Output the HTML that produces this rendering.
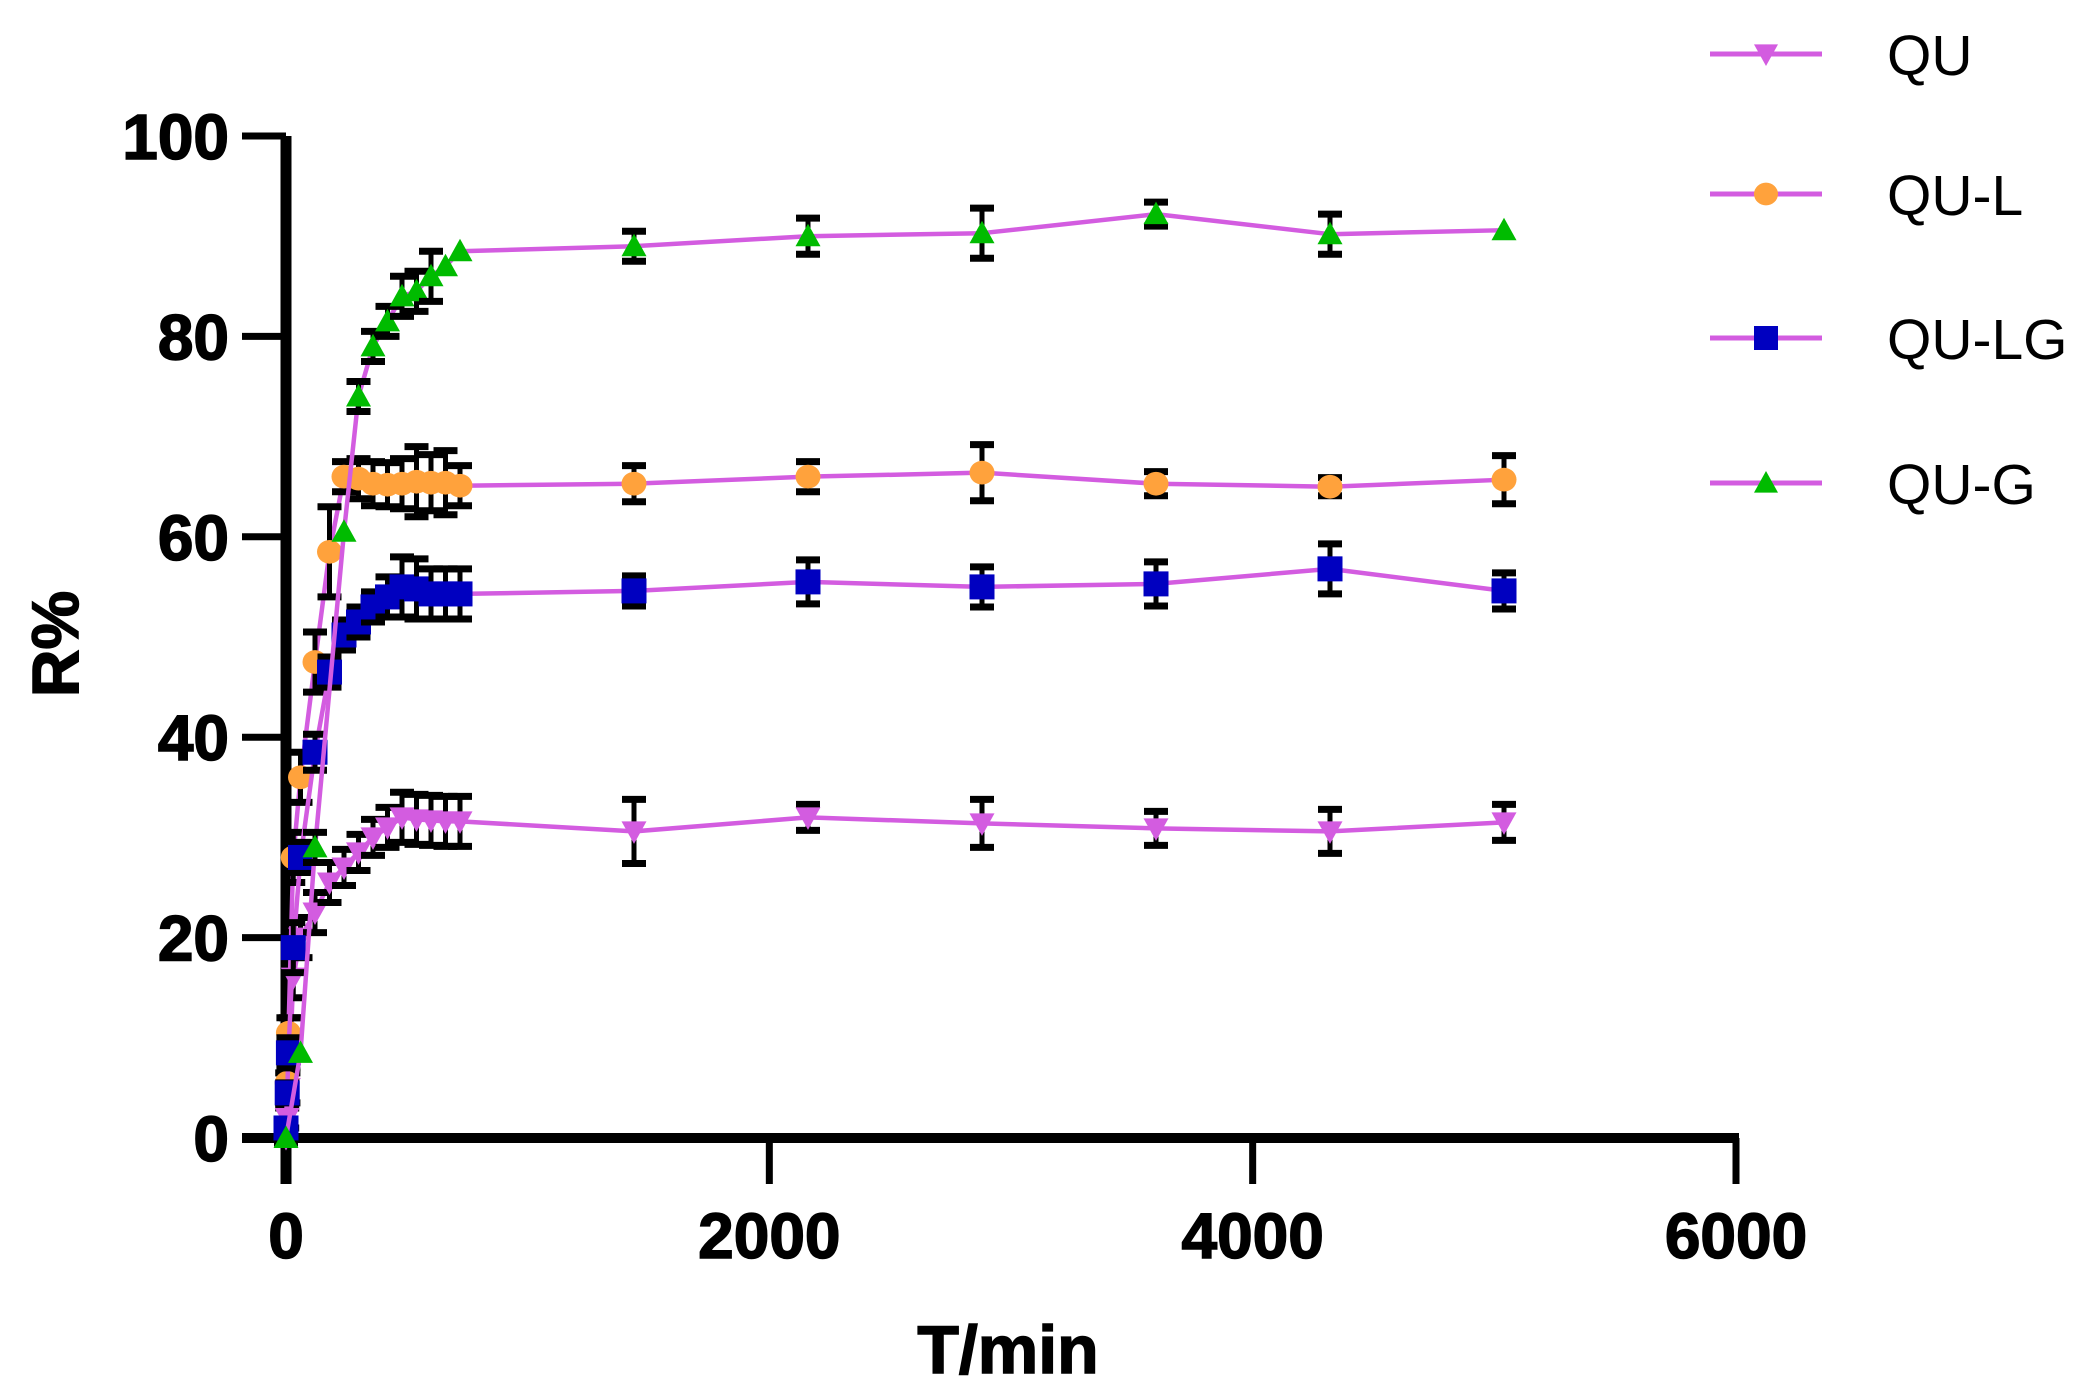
<!DOCTYPE html>
<html><head><meta charset="utf-8"><style>
html,body{margin:0;padding:0;background:#fff;}
svg{display:block;}
</style></head><body>
<svg id="chart" width="2081" height="1397" viewBox="0 0 2081 1397" xmlns="http://www.w3.org/2000/svg" font-family="'Liberation Sans', sans-serif">
<g id="axes"></g>
<g id="series"></g>
<g id="legend"></g>
</svg>
<script>
const times = [0,5,10,20,30,60,120,180,240,300,360,420,480,540,600,660,720,1440,2160,2880,3600,4320,5040];
const quValues  = [0,2,5,10,16,20,22.5,25.5,27,28.5,30,31,32,31.8,31.7,31.6,31.6,30.6,32,31.4,30.9,30.6,31.5];
const quErrors  = [0.5,1,1.5,2,2,2,2,2,1.8,1.8,1.8,2,2.5,2.5,2.5,2.5,2.5,3.2,1.3,2.4,1.7,2.2,1.8];
const qulValues = [1,5.5,10.5,null,28,36,47.5,58.5,66,65.8,65.3,65.2,65.3,65.5,65.4,65.4,65.1,65.3,66,66.4,65.3,65,65.7];
const qulErrors = [0.5,1,1.5,0,2.5,2.5,3,4.5,1.5,2,2.2,2.2,2.5,3.5,2.8,3.2,2,1.8,1.5,2.8,1.2,0.9,2.4];
const qulgValues= [1,4.5,8.5,null,19,28,38.5,46.5,50.2,51.5,53,54,55,54.8,54.3,54.3,54.3,54.6,55.5,55,55.3,56.8,54.6];
const qulgErrors= [0.5,1,1.5,0,2.5,1.5,1.8,1.5,1.5,1.5,1.5,2,3,3,2.5,2.5,2.5,1.5,2.2,2,2.2,2.5,1.8];
const qugValues = [0,null,null,null,null,8.5,29,null,60.5,74,79,81.5,84,84.5,86,87,88.5,89,90,90.3,92.2,90.2,90.6];
const qugErrors = [0,0,0,0,0,0,1.5,0,0,1.5,1.5,1.5,2,2,2.5,0,0,1.5,1.8,2.5,1.2,2,0];
const xTicks = [0,2000,4000,6000];
const yTicks = [0,20,40,60,80,100];
const seriesNames = ["QU","QU-L","QU-LG","QU-G"];

const NS="http://www.w3.org/2000/svg";
const X0=286, X1=1736, Y0=1138, Y1=136;
function xs(v){return X0+(v-0)/(6000-0)*(X1-X0);}
function ys(v){return Y0-(v-0)/(100-0)*(Y0-Y1);}
function mk(tag,attrs,parent){const e=document.createElementNS(NS,tag);for(const k in attrs)e.setAttribute(k,attrs[k]);parent.appendChild(e);return e;}
const LINE="#d35ce0";
const axes=document.getElementById('axes');
const ser=document.getElementById('series');
const leg=document.getElementById('legend');

let yl=mk('line',{x1:X0,y1:Y1,x2:X0,y2:1184,stroke:'#000','stroke-width':11},axes);


let xl=mk('line',{x1:X0-44,y1:Y0,x2:X1+3,y2:Y0,stroke:'#000','stroke-width':10},axes);


yTicks.forEach(t=>{
  const y=ys(t);
  let l=mk('line',{x1:X0-44,y1:y,x2:X0,y2:y,stroke:'#000','stroke-width':7},axes);
  
  
  let tx=mk('text',{x:229,y:y+23,'text-anchor':'end','font-size':64,'font-weight':'bold',stroke:'#000','stroke-width':1.5},axes);
  tx.textContent=t;
  
  
});
xTicks.forEach(t=>{
  const x=xs(t);
  let l=mk('line',{x1:x,y1:Y0,x2:x,y2:1184,stroke:'#000','stroke-width':7},axes);
  
  
  let tx=mk('text',{x:x,y:1258,'text-anchor':'middle','font-size':64,'font-weight':'bold',stroke:'#000','stroke-width':1.5},axes);
  tx.textContent=t;
  
  
});
let xt=mk('text',{x:1008,y:1373,'text-anchor':'middle','font-size':68,'font-weight':'bold',stroke:'#000','stroke-width':1.5},axes);
xt.textContent='T/min';


let yt=mk('text',{x:0,y:0,'text-anchor':'middle','font-size':66,'font-weight':'bold',stroke:'#000','stroke-width':1.5,transform:'translate(78,644) rotate(-90)'},axes);
yt.textContent='R%';



function marker(type,color,cx,cy,s,parent){
  const h=s/2;
  if(type==='down') return mk('polygon',{points:`${cx-h},${cy-h*0.8} ${cx+h},${cy-h*0.8} ${cx},${cy+h}`,fill:color},parent);
  if(type==='up') return mk('polygon',{points:`${cx-h},${cy+h*0.8} ${cx+h},${cy+h*0.8} ${cx},${cy-h}`,fill:color},parent);
  if(type==='circle') return mk('ellipse',{cx:cx,cy:cy,rx:h*1.0,ry:h*0.95,fill:color},parent);
  return mk('rect',{x:cx-h,y:cy-h,width:s,height:s,fill:color},parent);
}
const defs=[
  {name:'qu',vals:quValues,errs:quErrors,type:'down',color:'#d35ce0'},
  {name:'qu-l',vals:qulValues,errs:qulErrors,type:'circle',color:'#ffa23c'},
  {name:'qu-lg',vals:qulgValues,errs:qulgErrors,type:'square',color:'#0000c0'},
  {name:'qu-g',vals:qugValues,errs:qugErrors,type:'up',color:'#00bb00'}
];
defs.forEach(d=>{
  const g=mk('g',{},ser);
  
  
  const pts=[];
  times.forEach((t,i)=>{if(d.vals[i]!==null)pts.push([xs(t),ys(d.vals[i])]);});
  const pl=mk('polyline',{points:pts.map(p=>p.join(',')).join(' '),fill:'none',stroke:LINE,'stroke-width':4.5,'stroke-linejoin':'round'},g);
  
  
  times.forEach((t,i)=>{
    const v=d.vals[i]; if(v===null)return;
    const e=d.errs[i]; const x=xs(t);
    if(e>0){
      const eg=mk('g',{stroke:'#000','stroke-width':5},g);
      
      
      mk('line',{x1:x,y1:ys(v-e),x2:x,y2:ys(v+e)},eg);
      mk('line',{x1:x-12,y1:ys(v-e),x2:x+12,y2:ys(v-e),'stroke-width':7},eg);
      mk('line',{x1:x-12,y1:ys(v+e),x2:x+12,y2:ys(v+e),'stroke-width':7},eg);
    }
    const m=marker(d.type,d.color,x,ys(v),25,g);
    
    
  });
});
const legY=[54,194,338,483];
defs.forEach((d,i)=>{
  const g=mk('g',{},leg);
  
  
  mk('line',{x1:1710,y1:legY[i],x2:1822,y2:legY[i],stroke:LINE,'stroke-width':5},g);
  marker(d.type,d.color,1766,legY[i],24,g);
  const t=mk('text',{x:1887,y:legY[i]+21,'font-size':57},g);
  t.textContent=seriesNames[i];
  
  
});
</script>
</body></html>
